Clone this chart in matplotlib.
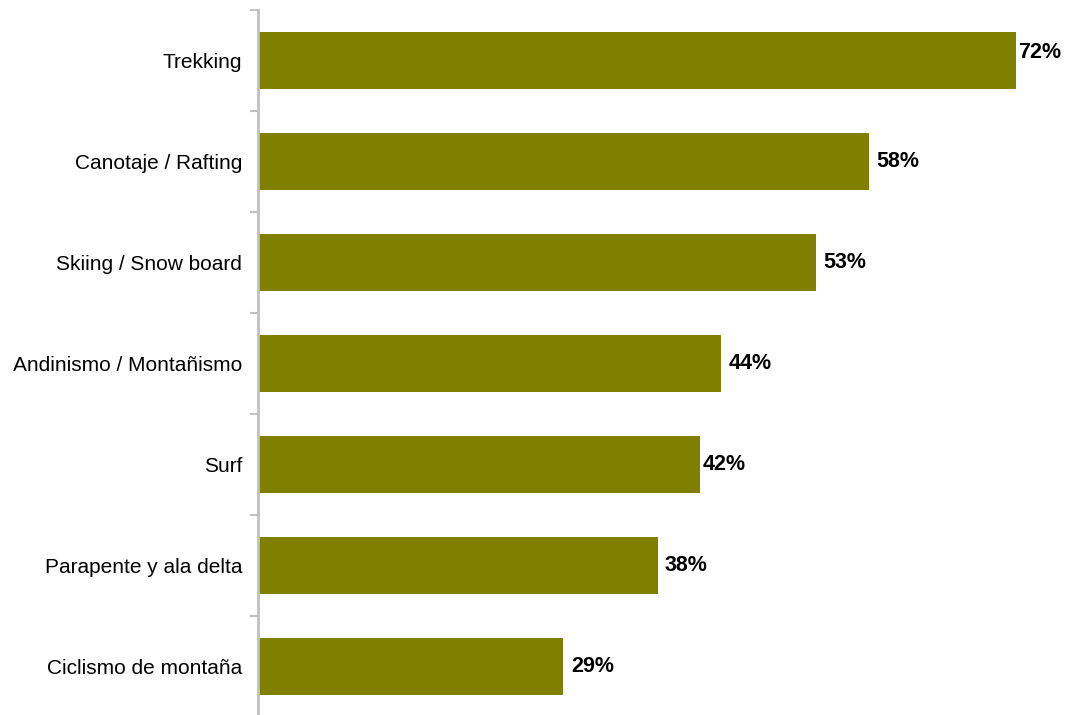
import matplotlib
matplotlib.use("Agg")
import matplotlib.pyplot as plt

plt.rcParams["font.family"] = ["Liberation Sans", "DejaVu Sans"]

# Practice rates by adventure sport, top to bottom
activities = [
    "Trekking",
    "Canotaje / Rafting",
    "Skiing / Snow board",
    "Andinismo / Montañismo",
    "Surf",
    "Parapente y ala delta",
    "Ciclismo de montaña",
]
shares = [72, 58, 53, 44, 42, 38, 29]

BAR_COLOR = "#808000"
AXIS_GRAY = "#c0c0c0"
# label offsets from each bar end, in points (x gap, y shift)
label_dx = [1.5, 5.5, 5.5, 5.0, 1.5, 5.0, 5.5]
label_dy = [5.5, 0, 0, 0, 0, 0, 0]

fig = plt.figure(figsize=(10.65, 7.15), dpi=100)
ax = fig.add_axes([258 / 1065, -2 / 715, 807 / 1065, 707 / 715])

n = len(activities)
ypos = list(range(n))[::-1]
ax.barh(ypos, shares, height=0.565, color=BAR_COLOR, zorder=2)

for y, v, dx, dy in zip(ypos, shares, label_dx, label_dy):
    ax.annotate(f"{v}%", xy=(v, y), xytext=(dx, dy), textcoords="offset points",
                ha="left", va="center", fontsize=15.5, fontweight="bold", color="black")

ax.set_xlim(0, 807 / (758 / 72))
ax.set_ylim(-0.5, n - 0.5)

# category boundaries carry the tick marks, labels sit at bar centres
ax.set_yticks([i - 0.5 for i in range(n + 1)])
ax.set_yticklabels([])
ax.set_yticks(ypos, labels=activities, minor=True)
ax.tick_params(axis="y", which="major", length=6, width=1.5, color=AXIS_GRAY, left=True)
ax.tick_params(axis="y", which="minor", length=0, pad=11.5, labelsize=15)
ax.set_xticks([])

for side in ("top", "right", "bottom"):
    ax.spines[side].set_visible(False)
ax.spines["left"].set_color(AXIS_GRAY)
ax.spines["left"].set_linewidth(2)

fig.savefig("out.png", dpi=100)
